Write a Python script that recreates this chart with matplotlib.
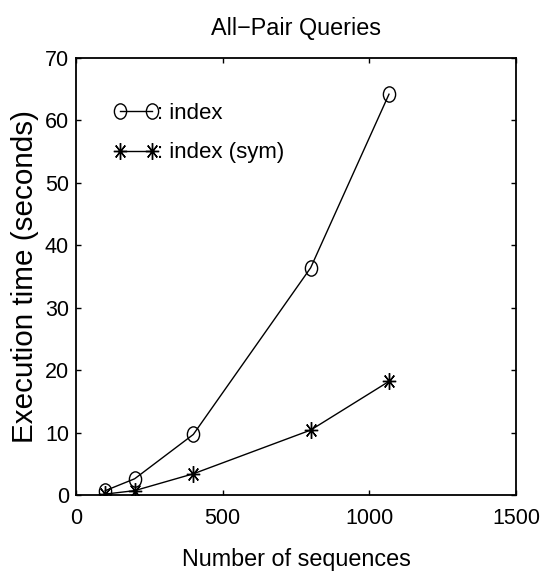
import numpy as np
import matplotlib
matplotlib.use("Agg")
import matplotlib.pyplot as plt
from matplotlib.markers import MarkerStyle
from matplotlib.transforms import Affine2D
from matplotlib.legend_handler import HandlerLine2D

plt.rcParams['font.family'] = ['Liberation Sans', 'DejaVu Sans']

# data
n_seq = [100, 200, 400, 800, 1067]
t_index = [0.7, 2.6, 9.7, 36.4, 64.2]
t_index_sym = [0.15, 0.7, 3.4, 10.4, 18.2]

xticks = [0, 500, 1000, 1500]
yticks = [0, 10, 20, 30, 40, 50, 60, 70]

# the original is a bit squeezed sideways, markers too
squeeze = Affine2D().scale(0.8, 1.0)
m_circle = MarkerStyle('o', fillstyle='none', transform=squeeze)
m_star = MarkerStyle((8, 2, 0), transform=squeeze)

fig = plt.figure(figsize=(5.45, 5.73), dpi=100)
ax = fig.add_axes([0.1394, 0.1361, 0.8074, 0.7627])

l1, = ax.plot(n_seq, t_index, color='black', lw=1.0, marker=m_circle, ms=11,
              mec='black', mew=1.0, label=': index')
l2, = ax.plot(n_seq, t_index_sym, color='black', lw=1.0, marker=m_star, ms=12,
              mec='black', mew=1.0, label=': index (sym)')

ax.set_xlim(0, 1500)
ax.set_ylim(0, 70)
ax.set_xticks(xticks)
ax.set_yticks(yticks)
ax.tick_params(direction='in', top=True, right=True, length=3.6, width=1,
               labelsize=15.5)
ax.tick_params(axis='x', pad=9.5)
ax.tick_params(axis='y', pad=5)
for s in ax.spines.values():
    s.set_linewidth(1.3)

ax.set_title('All\u2212Pair Queries', fontsize=16.8, pad=16.5)
ax.set_xlabel('Number of sequences', fontsize=16.8, labelpad=13.6)
ax.set_ylabel('Execution time (seconds)', fontsize=21.3, labelpad=4)

# matlab style legend: marker-line-marker, no box
hmap = {l1: HandlerLine2D(marker_pad=0), l2: HandlerLine2D(marker_pad=0)}
ax.legend(loc='upper left', frameon=False, numpoints=2, handlelength=1.45,
          handletextpad=0.2, fontsize=16, bbox_to_anchor=(0.1, 0.898),
          labelspacing=0.85, borderpad=0, borderaxespad=0, handler_map=hmap)

fig.savefig('out.png', dpi=100)
